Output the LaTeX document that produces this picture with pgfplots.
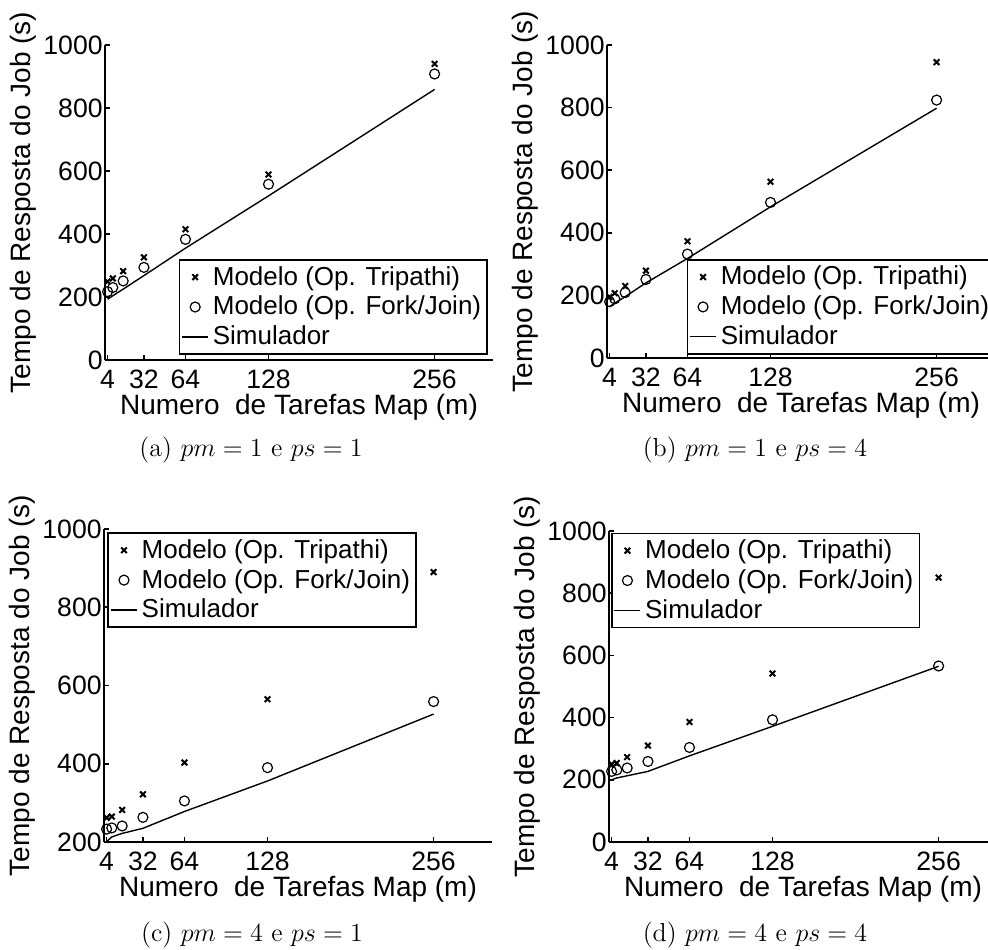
\documentclass[border=0pt]{standalone}
\usepackage{fix-cm}
\usepackage{fontspec}
\usepackage{pgfplots}
\pgfplotsset{compat=1.18}
\newfontfamily\arial{Liberation Sans}

\pgfplotsset{
  panel/.style={
    scale only axis,
    width=194pt,
    xmin=2, xmax=301,
    axis x line=bottom, axis y line=left,
    axis line style={-, line width=0.8pt},
    xtick={4,32,64,128,256},
    tick align=inside,
    major tick length=2.5pt,
    tick style={black, line width=0.8pt},
    clip=false,
    /pgf/number format/assume math mode=true,
    /pgf/number format/1000 sep={},
    every tick label/.append style={font=\arial\fontsize{13.3}{15}\selectfont},
    yticklabel style={inner xsep=1pt},
    xticklabel style={yshift=-1.5pt},
    label style={font=\arial\fontsize{14}{16}\selectfont},
    xlabel style={yshift=4pt},
    ylabel style={yshift=-1pt},
    xlabel={Numero\ \ de Tarefas Map (m)},
    ylabel={Tempo de Resposta do Job (s)},
    legend style={draw=black, line width=0.8pt, fill=white,
      font=\arial\fontsize{13}{15.6}\selectfont,
      cells={anchor=west}, inner xsep=1pt, inner ysep=1.2pt},
    legend image code/.code={\draw[mark repeat=2, mark phase=2, #1]
      plot coordinates {(0pt,0pt) (6.5pt,0pt) (13pt,0pt)};},
  },
  trip/.style={only marks, mark=x, mark size=2pt, black, mark options={line width=1pt}},
  fj/.style={only marks, mark=o, mark size=2.5pt, black, mark options={line width=0.6pt}},
  sim/.style={no marks, black, line width=0.7pt},
}

\begin{document}
\begin{tikzpicture}
\useasboundingbox (0,0) rectangle (494pt,474.5pt);

% (a) pm = 1, ps = 1
\begin{axis}[panel, at={(52.5pt,294.5pt)}, anchor=south west,
  height=157.5pt, ymin=0, ymax=1000, ytick={0,200,400,600,800,1000},
  legend style={at={(0.987,0.016)}, anchor=south east}]
\addplot[trip] coordinates {(4,249) (8,259) (16,282) (32,326) (64,415) (128,589) (256,940)};
\addplot[fj] coordinates {(4,217) (8,230) (16,251) (32,294) (64,383) (128,558) (256,908)};
\addplot[sim] coordinates {(4,193) (8,204) (16,225) (32,268) (64,355) (128,521) (256,859)};
\legend{Modelo (Op. Tripathi), Modelo (Op. Fork/Join), Simulador}
\end{axis}

% (b) pm = 1, ps = 4
\begin{axis}[panel, at={(303.5pt,295.5pt)}, anchor=south west,
  height=156.5pt, ymin=0, ymax=1000, ytick={0,200,400,600,800,1000},
  legend style={at={(0.205,0.01)}, anchor=south west}]
\addplot[trip] coordinates {(4,195) (8,207) (16,230) (32,279) (64,373) (128,563) (256,945)};
\addplot[fj] coordinates {(4,180) (8,189) (16,209) (32,251) (64,332) (128,497) (256,824)};
\addplot[sim] coordinates {(4,164) (8,175) (16,196) (32,240) (64,318) (128,483) (256,798)};
\legend{Modelo (Op. Tripathi), Modelo (Op. Fork/Join), Simulador}
\end{axis}

% (c) pm = 4, ps = 1
\begin{axis}[panel, at={(52pt,53.5pt)}, anchor=south west,
  height=156.5pt, ymin=200, ymax=1000, ytick={200,400,600,800,1000},
  legend style={at={(0.009,0.99)}, anchor=north west}]
\addplot[trip] coordinates {(4,262) (8,265) (16,282) (32,322) (64,403) (128,565) (256,890)};
\addplot[fj] coordinates {(4,233) (8,236) (16,241) (32,263) (64,305) (128,390) (256,559)};
\addplot[sim] coordinates {(4,201) (8,213) (16,222) (32,235) (64,278) (128,356) (256,527)};
\legend{Modelo (Op. Tripathi), Modelo (Op. Fork/Join), Simulador}
\end{axis}

% (d) pm = 4, ps = 4
\begin{axis}[panel, at={(304.5pt,53.5pt)}, anchor=south west,
  height=155.5pt, ymin=0, ymax=1000, ytick={0,200,400,600,800,1000},
  legend style={at={(0.005,0.995)}, anchor=north west}]
\addplot[trip] coordinates {(4,250) (8,254) (16,273) (32,310) (64,386) (128,542) (256,850)};
\addplot[fj] coordinates {(4,227) (8,232) (16,238) (32,259) (64,304) (128,393) (256,566)};
\addplot[sim] coordinates {(4,200) (8,206) (16,213) (32,227) (64,277) (128,372) (256,565)};
\legend{Modelo (Op. Tripathi), Modelo (Op. Fork/Join), Simulador}
\end{axis}

\begin{scope}[every node/.style={font=\fontsize{13}{15}\selectfont}]
\node at (125.5pt,249.5pt) {(a) $pm=1$ e $ps=1$};
\node at (377.5pt,249.5pt) {(b) $pm=1$ e $ps=4$};
\node at (126pt,7pt) {(c) $pm=4$ e $ps=1$};
\node at (377.5pt,7pt) {(d) $pm=4$ e $ps=4$};
\end{scope}
\end{tikzpicture}
\end{document}
